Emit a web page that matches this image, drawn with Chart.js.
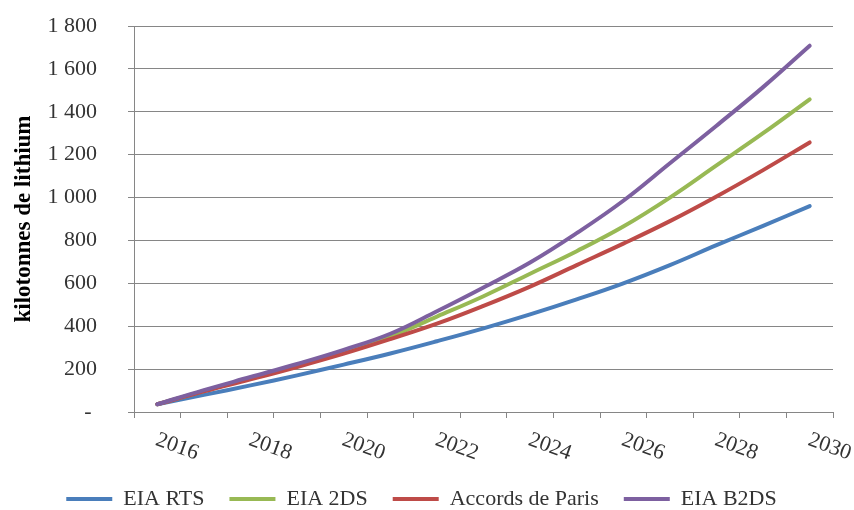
<!DOCTYPE html>
<html>
<head>
<meta charset="utf-8">
<script src="https://cdn.jsdelivr.net/npm/chart.js@4.4.0/dist/chart.umd.min.js"></script>
<style>
  html, body { margin: 0; padding: 0; background: #fff; }
</style>
</head>
<body>
<canvas id="lithiumChart" width="854" height="510"></canvas>
<script>
const years = ['2016', '2017', '2018', '2019', '2020', '2021', '2022', '2023',
               '2024', '2025', '2026', '2027', '2028', '2029', '2030'];
const shownYears = ['2016', '2018', '2020', '2022', '2024', '2026', '2028', '2030'];

// kilotonnes de lithium
const eiaRts = [36, 80, 124, 171, 221, 273, 330, 390, 455, 525, 600, 685, 778, 868, 960];
const eia2ds = [36, 98, 158, 218, 282, 352, 445, 540, 645, 750, 865, 1000, 1150, 1300, 1458];
const accordsParis = [36, 96, 152, 210, 272, 340, 412, 495, 585, 685, 785, 890, 1005, 1128, 1257];
const eiaB2ds = [36, 102, 163, 224, 290, 365, 470, 581, 697, 834, 985, 1160, 1335, 1515, 1708];

const gridGray = '#868686';
const textColor = '#333333';
const serif = "'Liberation Serif', 'Times New Roman', serif";

Chart.defaults.font.family = serif;

function frenchThousands(v) {
    if (v === 0) return '- ';
    return String(v).replace(/\B(?=(\d{3})+(?!\d))/g, ' ');
}

// Excel style slanted year labels under the x axis
const slantedYearLabels = {
    id: 'slantedYearLabels',
    afterDraw(chart) {
        const xScale = chart.scales.x;
        const ctx = chart.ctx;
        ctx.save();
        ctx.font = '22px ' + serif;
        ctx.fillStyle = textColor;
        ctx.textAlign = 'left';
        ctx.textBaseline = 'top';
        xScale.ticks.forEach((tick, i) => {
            const label = years[i];
            if (!shownYears.includes(label)) return;
            const x = xScale.getPixelForTick(i);
            ctx.save();
            ctx.translate(x + 3, xScale.top + 17);
            ctx.rotate(20 * Math.PI / 180);
            ctx.fillText(label, 0, 0);
            ctx.restore();
        });
        ctx.restore();
    }
};

function lineDataset(label, data, color, order) {
    return {
        label: label,
        data: data,
        borderColor: color,
        backgroundColor: color,
        borderWidth: 4,
        borderCapStyle: 'round',
        pointRadius: 0,
        tension: 0.4,
        fill: false,
        order: order
    };
}

const ctx = document.getElementById('lithiumChart').getContext('2d');
const chart = new Chart(ctx, {
    type: 'line',
    data: {
        labels: years,
        datasets: [
            lineDataset('EIA RTS', eiaRts, '#4a7ebb', 3),
            lineDataset('EIA 2DS', eia2ds, '#98b954', 2),
            lineDataset('Accords de Paris', accordsParis, '#be4b48', 1),
            lineDataset('EIA B2DS', eiaB2ds, '#7d60a0', 0)
        ]
    },
    options: {
        responsive: false,
        animation: false,
        layout: {
            padding: { left: 10, right: 21, top: 26, bottom: -10 }
        },
        scales: {
            x: {
                offset: true,
                grid: {
                    offset: true,
                    drawOnChartArea: false,
                    color: gridGray,
                    tickLength: 6
                },
                border: { color: gridGray },
                ticks: { display: false },
                afterFit(scale) {
                    scale.height = 51;
                }
            },
            y: {
                min: 0,
                max: 1800,
                ticks: {
                    stepSize: 200,
                    padding: 31,
                    color: textColor,
                    font: { size: 22 },
                    callback: frenchThousands
                },
                grid: {
                    color: gridGray,
                    tickLength: 6
                },
                border: { color: gridGray },
                title: {
                    display: true,
                    text: 'kilotonnes de lithium',
                    color: '#000000',
                    font: { size: 23, weight: 'bold' },
                    padding: 0
                },
                afterFit(scale) {
                    scale.width = 124;
                    scale.paddingTop = 0;
                    scale.paddingBottom = 0;
                }
            }
        },
        plugins: {
            legend: {
                position: 'bottom',
                labels: {
                    color: textColor,
                    font: { size: 22 },
                    usePointStyle: true,
                    pointStyle: 'line',
                    pointStyleWidth: 46,
                    padding: 25,
                    sort: (a, b) => a.datasetIndex - b.datasetIndex
                }
            },
            tooltip: { enabled: false }
        }
    },
    plugins: [slantedYearLabels]
});
</script>
</body>
</html>
